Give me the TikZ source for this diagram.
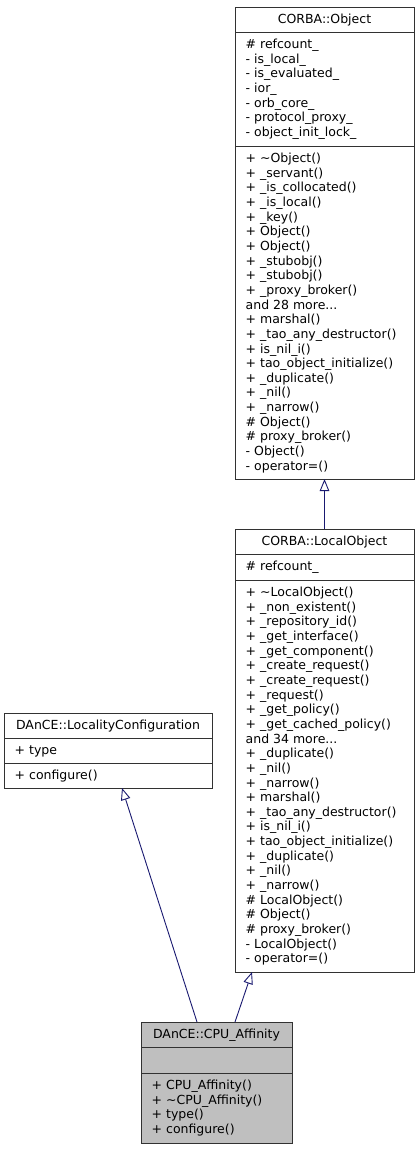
\documentclass[tikz,border=0pt]{standalone}
\usepackage{fontspec}
\setmainfont{DejaVu Sans}
\usetikzlibrary{arrows.meta}
\definecolor{edgeblue}{RGB}{25,25,112}
\definecolor{cpufill}{RGB}{191,191,191}
\definecolor{boxline}{RGB}{50,50,50}
\begin{document}
\begin{tikzpicture}[x=1pt,y=-1pt,
  compbase/.style={draw=boxline, line width=0.9pt, anchor=north west, inner sep=0pt, outer sep=0pt},
  bigbox/.style={compbase, minimum width=179pt},
  lcbox/.style={compbase, minimum width=208pt},
  cpubox/.style={compbase, minimum width=151pt, fill=cpufill},
  txt/.style={anchor=north west, inner sep=0pt, align=left, font=\fontsize{12.5}{14.64}\selectfont},
  ttl/.style={anchor=base, inner sep=0pt, font=\fontsize{12.5}{14.64}\selectfont},
  inh/.style={draw=edgeblue, line width=0.9pt, -{Triangle[open, length=12pt, width=9.5pt]}}
]
\useasboundingbox (0,0) rectangle (420,1149);

% CORBA::Object
\node[bigbox, minimum height=25pt] (objT) at (235,7) {};
\node[bigbox, minimum height=114pt] (objA) at (235,32) {};
\node[bigbox, minimum height=333pt] (objM) at (235,146) {};
\node[ttl] (objTt) at ([shift={(0,16.5)}]objT.north) {CORBA::Object};
\node[txt] (objAt) at ([shift={(10.5,6.25)}]objA.north west) {\strut\# refcount\_\\
- is\_local\_\\
- is\_evaluated\_\\
- ior\_\\
- orb\_core\_\\
- protocol\_proxy\_\\
- object\_init\_lock\_};
\node[txt] (objMt) at ([shift={(10.5,6.25)}]objM.north west) {\strut+ \textasciitilde Object()\\
+ \_servant()\\
+ \_is\_collocated()\\
+ \_is\_local()\\
+ \_key()\\
+ Object()\\
+ Object()\\
+ \_stubobj()\\
+ \_stubobj()\\
+ \_proxy\_broker()\\
and 28 more...\\
+ marshal()\\
+ \_tao\_any\_destructor()\\
+ is\_nil\_i()\\
+ tao\_object\_initialize()\\
+ \_duplicate()\\
+ \_nil()\\
+ \_narrow()\\
\# Object()\\
\# proxy\_broker()\\
- Object()\\
- operator=()};

% CORBA::LocalObject
\node[bigbox, minimum height=25pt] (loT) at (235,529) {};
\node[bigbox, minimum height=26pt] (loA) at (235,554) {};
\node[bigbox, minimum height=392pt] (loM) at (235,580) {};
\node[ttl] (loTt) at ([shift={(0,16.5)}]loT.north) {CORBA::LocalObject};
\node[txt] (loAt) at ([shift={(10.5,6.25)}]loA.north west) {\strut\# refcount\_};
\node[txt] (loMt) at ([shift={(10.5,6.25)}]loM.north west) {\strut+ \textasciitilde LocalObject()\\
+ \_non\_existent()\\
+ \_repository\_id()\\
+ \_get\_interface()\\
+ \_get\_component()\\
+ \_create\_request()\\
+ \_create\_request()\\
+ \_request()\\
+ \_get\_policy()\\
+ \_get\_cached\_policy()\\
and 34 more...\\
+ \_duplicate()\\
+ \_nil()\\
+ \_narrow()\\
+ marshal()\\
+ \_tao\_any\_destructor()\\
+ is\_nil\_i()\\
+ tao\_object\_initialize()\\
+ \_duplicate()\\
+ \_nil()\\
+ \_narrow()\\
\# LocalObject()\\
\# Object()\\
\# proxy\_broker()\\
- LocalObject()\\
- operator=()};

% DAnCE::LocalityConfiguration
\node[lcbox, minimum height=25pt] (lcT) at (4,713) {};
\node[lcbox, minimum height=25pt] (lcA) at (4,738) {};
\node[lcbox, minimum height=25pt] (lcM) at (4,763) {};
\node[ttl] (lcTt) at ([shift={(0,16.5)}]lcT.north) {DAnCE::LocalityConfiguration};
\node[txt] (lcAt) at ([shift={(10.5,6.25)}]lcA.north west) {\strut+ type};
\node[txt] (lcMt) at ([shift={(10.5,6.25)}]lcM.north west) {\strut+ configure()};

% DAnCE::CPU_Affinity
\node[cpubox, minimum height=25pt] (cpuT) at (141,1022) {};
\node[cpubox, minimum height=26pt] (cpuA) at (141,1047) {};
\node[cpubox, minimum height=70pt] (cpuM) at (141,1073) {};
\node[ttl] (cpuTt) at ([shift={(0,16.5)}]cpuT.north) {DAnCE::CPU\_Affinity};
\node[txt] (cpuMt) at ([shift={(10.5,6.25)}]cpuM.north west) {\strut+ CPU\_Affinity()\\
+ \textasciitilde CPU\_Affinity()\\
+ type()\\
+ configure()};

% inheritance
\draw[inh] (loT.north) -- (objM.south);
\draw[inh] ([xshift=-19.5pt]cpuT.north) -- ([xshift=14pt]lcM.south);
\draw[inh] ([xshift=18.5pt]cpuT.north) -- ([xshift=-72.5pt]loM.south);
\end{tikzpicture}
\end{document}
